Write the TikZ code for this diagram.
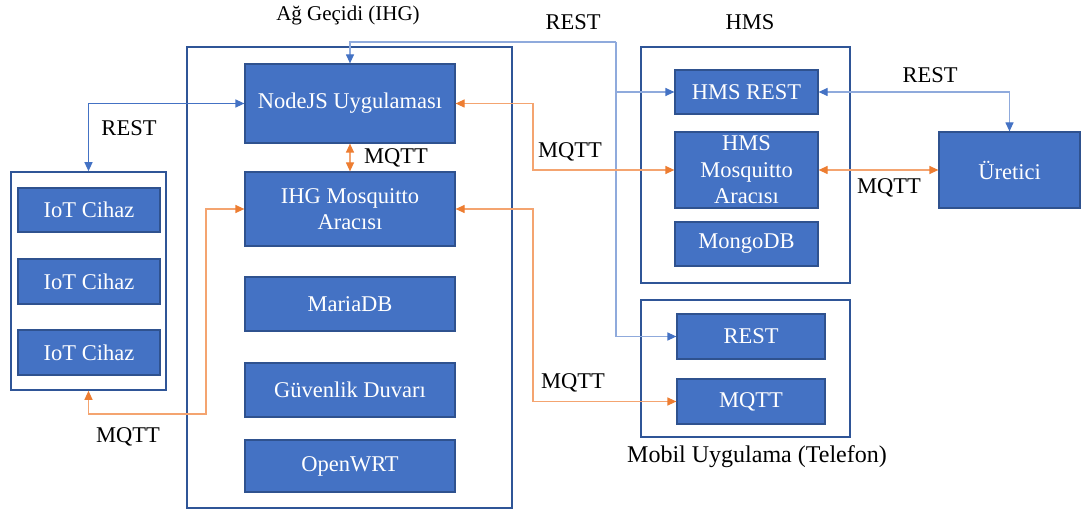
\documentclass[tikz,border=0pt]{standalone}
\usepackage{fontspec}
\setmainfont{Liberation Serif}
\usetikzlibrary{arrows.meta}
\definecolor{boxfill}{HTML}{4472C4}
\definecolor{boxborder}{HTML}{2F528F}
\definecolor{contborder}{HTML}{2F5597}
\definecolor{restdark}{HTML}{4472C4}
\definecolor{restlight}{HTML}{8FAADC}
\definecolor{mqline}{HTML}{F4A470}
\definecolor{mqhead}{HTML}{ED7D31}
\tikzset{
  box/.style={draw=boxborder, fill=boxfill, text=white, line width=1.2pt, inner sep=0pt, align=center, font=\fontsize{22.5}{26.5}\selectfont},
  cont/.style={draw=contborder, line width=1.6pt, inner sep=0pt},
  lbl/.style={text=black, inner sep=0pt, font=\fontsize{22.5}{26.5}\selectfont},
  restconn/.style={draw=restlight, line width=1.2pt, arrows={-Triangle[length=9pt,width=8pt,color=restdark]}},
  restconnb/.style={draw=restlight, line width=1.2pt, arrows={Triangle[length=9pt,width=8pt,color=restdark]-Triangle[length=9pt,width=8pt,color=restdark]}},
  restdk/.style={draw=restdark, line width=1.2pt, arrows={Triangle[length=9pt,width=8pt]-Triangle[length=9pt,width=8pt]}},
  mqconn/.style={draw=mqline, line width=1.2pt, arrows={Triangle[length=9pt,width=8pt,color=mqhead]-Triangle[length=9pt,width=8pt,color=mqhead]}},
}
\begin{document}
\begin{tikzpicture}[x=1pt,y=-1pt]
\useasboundingbox (0,0) rectangle (1081,510);
% containers
\node[cont, minimum width=325pt, minimum height=461pt] (ihg) at (349.5,277.5) {};
\node[cont, minimum width=155pt, minimum height=218pt] (iot) at (88.5,281) {};
\node[cont, minimum width=209pt, minimum height=236pt] (hms) at (745.5,165) {};
\node[cont, minimum width=209pt, minimum height=137pt] (mob) at (745.5,368.5) {};
% titles
\node[lbl, font=\fontsize{21}{25}\selectfont] (tihg) at (348,15) {Ağ Geçidi (IHG)};
\node[lbl] (thms) at (750,22) {HMS};
\node[lbl, font=\fontsize{24}{28}\selectfont] (tmob) at (757,457) {Mobil Uygulama (Telefon)};
% IHG boxes
\node[box, minimum width=210pt, minimum height=79pt] (nodejs) at (350,103.5) {NodeJS Uygulaması};
\node[box, minimum width=210pt, minimum height=74pt] (ihgmq) at (350,209) {IHG Mosquitto\\Aracısı};
\node[box, minimum width=210pt, minimum height=54pt] (maria) at (350,304) {MariaDB};
\node[box, minimum width=210pt, minimum height=54pt] (fw) at (350,390) {Güvenlik Duvarı};
\node[box, minimum width=210pt, minimum height=52pt] (owrt) at (350,466) {OpenWRT};
% IoT boxes
\node[box, minimum width=142pt, minimum height=44pt] (iot1) at (89,210) {IoT Cihaz};
\node[box, minimum width=142pt, minimum height=45pt] (iot2) at (89,281.5) {IoT Cihaz};
\node[box, minimum width=142pt, minimum height=45pt] (iot3) at (89,352.5) {IoT Cihaz};
% HMS boxes
\node[box, minimum width=143pt, minimum height=44pt] (hmsrest) at (746.5,92) {HMS REST};
\node[box, minimum width=143pt, minimum height=76pt] (hmsmq) at (746.5,170) {HMS\\Mosquitto\\Aracısı};
\node[box, minimum width=143pt, minimum height=44pt] (mongo) at (746.5,244) {MongoDB};
% Mobile boxes
\node[box, minimum width=148pt, minimum height=45pt] (mrest) at (751,336.5) {REST};
\node[box, minimum width=148pt, minimum height=45pt] (mmqtt) at (751,401.5) {MQTT};
% Uretici
\node[box, minimum width=141pt, minimum height=76pt] (uret) at (1009.5,170) {Üretici};
% connector labels
\node[lbl] (l1) at (573,22) {REST};
\node[lbl] (l2) at (129,128) {REST};
\node[lbl] (l3) at (396,158) {MQTT};
\node[lbl] (l4) at (570,152) {MQTT};
\node[lbl] (l5) at (573,383) {MQTT};
\node[lbl] (l6) at (128,437) {MQTT};
\node[lbl] (l7) at (930,75) {REST};
\node[lbl] (l8) at (889,188) {MQTT};
% coordinates
\coordinate (rj) at (616,42);
\coordinate (m1) at (206,414);
\coordinate (m2) at (533,170);
\coordinate (m3) at (533,401.5);
% REST connectors
\draw[restconn] (rj) -| (nodejs.north);
\draw[restconn] (rj) |- (hmsrest.west);
\draw[restconn] (rj) |- (mrest.west);
\draw[restdk] (nodejs.west) -| (iot.north);
\draw[restconnb] (hmsrest.east) -| (uret.north);
% MQTT connectors
\draw[mqconn] (ihgmq.west) -| (m1) -| (iot.south);
\draw[mqconn] (nodejs.east) -| (m2) -- (hmsmq.west);
\draw[mqconn] (ihgmq.east) -| (m3) -- (mmqtt.west);
\draw[mqconn] (nodejs.south) -- (ihgmq.north);
\draw[mqconn] (hmsmq.east) -- (uret.west);
\end{tikzpicture}
\end{document}
